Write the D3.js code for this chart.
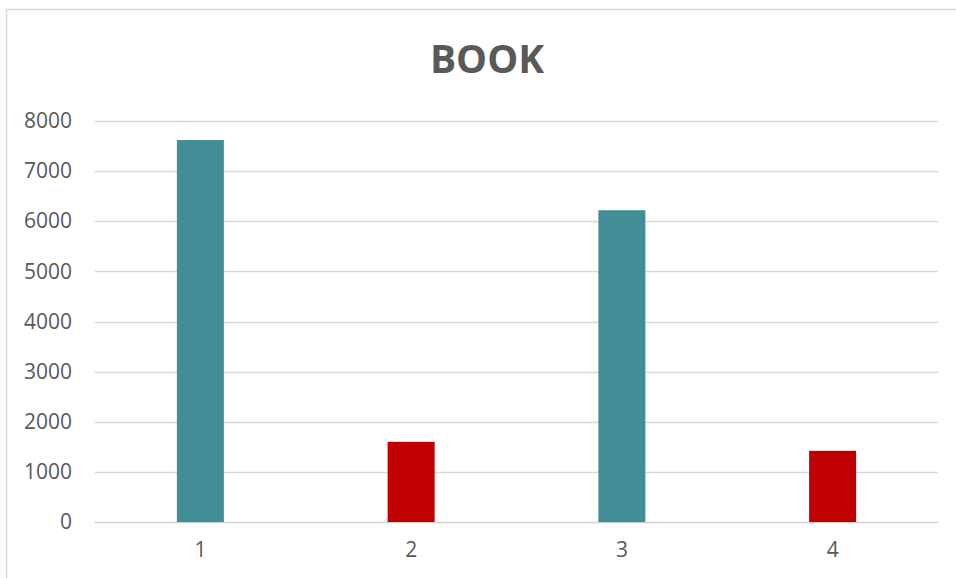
<!DOCTYPE html>
<html>
<head>
<meta charset="utf-8">
<script src="https://cdn.jsdelivr.net/npm/d3@7"></script>
<style>
  body { margin: 0; background: #fff; }
  text { font-family: "Open Sans", sans-serif; fill: #595959; }
</style>
</head>
<body>
<div id="chart"></div>
<script>
// Chart data.
var categories = ["1", "2", "3", "4"];
var values = [7620, 1600, 6220, 1420];
var barColors = ["#428E96", "#C00000", "#428E96", "#C00000"];
var yTicks = [0, 1000, 2000, 3000, 4000, 5000, 6000, 7000, 8000];
var title = "BOOK";

// Setup sizes and margins.
var plotWidth = 956;
var plotHeight = 578;
var margin = { top: 121, right: 18, bottom: 56, left: 95 };
var width = 938 - margin.left;
var height = 522 - margin.top;

var svg = d3.select("#chart").append("svg")
  .attr("width", plotWidth)
  .attr("height", plotHeight);

// Chart area border (only the top and left edges are in the picture).
svg.append("rect")
  .attr("x", 6.5)
  .attr("y", 9.5)
  .attr("width", 980)
  .attr("height", 600)
  .attr("fill", "none")
  .attr("stroke", "#d9d9d9")
  .attr("stroke-width", 1.5);

var g = svg.append("g")
  .attr("transform", "translate(" + margin.left + "," + margin.top + ")");

// Scales.
var xScale = d3.scaleBand()
  .domain(categories)
  .range([0, width])
  .paddingInner(0.777)
  .paddingOuter(0.3885);

var yScale = d3.scaleLinear()
  .domain([0, 8000])
  .range([height, 0]);

// Gridlines.
g.append("g")
  .attr("class", "grid")
  .selectAll("line")
  .data(yTicks)
  .enter().append("line")
  .attr("x1", 0)
  .attr("x2", width)
  .attr("y1", function(d) { return Math.round(yScale(d)) + 0.5; })
  .attr("y2", function(d) { return Math.round(yScale(d)) + 0.5; })
  .attr("stroke", function(d) { return d == 0 ? "#d0d0d0" : "#d9d9d9"; })
  .attr("stroke-width", 1.5);

// Y axis labels.
var yAxis = d3.axisLeft(yScale)
  .tickValues(yTicks)
  .tickSize(0)
  .tickPadding(23)
  .tickFormat(d3.format("d"));

g.append("g")
  .attr("class", "y_axis")
  .call(yAxis)
  .call(function(a) { a.select(".domain").remove(); })
  .selectAll("text")
  .style("font-size", "21px")
  .attr("fill", "#595959");

// X axis labels.
var xAxis = d3.axisBottom(xScale)
  .tickSize(0)
  .tickPadding(20);

g.append("g")
  .attr("class", "x_axis")
  .attr("transform", "translate(0," + height + ")")
  .call(xAxis)
  .call(function(a) { a.select(".domain").remove(); })
  .selectAll("text")
  .style("font-size", "21px")
  .attr("fill", "#595959");

// Bars.
g.selectAll(".bar")
  .data(values)
  .enter().append("rect")
  .attr("class", "bar")
  .attr("x", function(d, i) { return xScale(categories[i]); })
  .attr("y", function(d) { return yScale(d); })
  .attr("width", xScale.bandwidth())
  .attr("height", function(d) { return height - yScale(d); })
  .attr("fill", function(d, i) { return barColors[i]; });

// Title.
svg.append("text")
  .attr("x", 487)
  .attr("y", 73)
  .style("text-anchor", "middle")
  .style("font-size", "39px")
  .style("font-weight", "bold")
  .text(title);
</script>
</body>
</html>
